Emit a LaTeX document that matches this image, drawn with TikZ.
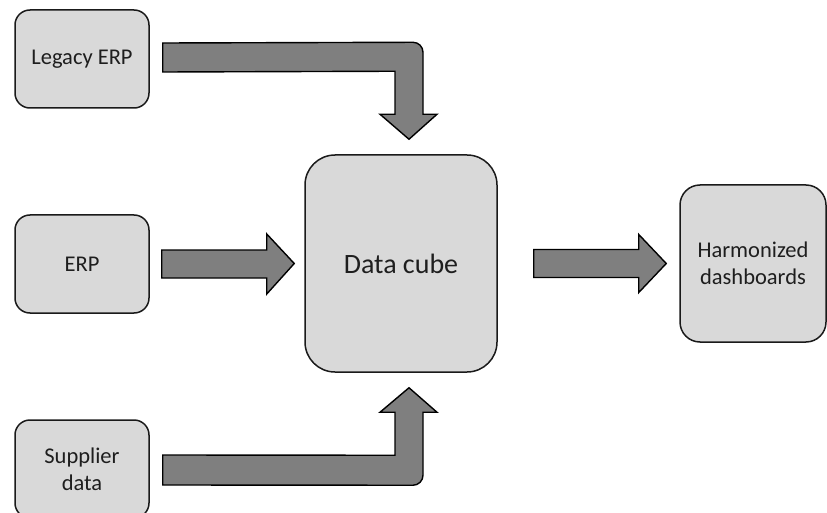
\documentclass[tikz,border=0pt]{standalone}
\usepackage{fontspec}
\setmainfont{Carlito}
\usetikzlibrary{calc}
\definecolor{boxfill}{HTML}{D9D9D9}
\definecolor{boxline}{HTML}{1A1A1A}
\definecolor{arrowfill}{HTML}{7F7F7F}
\definecolor{textcol}{HTML}{1E1E1E}
\tikzset{
  srcbox/.style={draw=boxline, fill=boxfill, line width=1.5pt, rounded corners=15pt,
    minimum width=134pt, minimum height=98pt, inner sep=0pt, align=center,
    text=textcol, font=\fontsize{22.5}{27}\selectfont},
  cubebox/.style={draw=boxline, fill=boxfill, line width=1.5pt, rounded corners=30pt,
    minimum width=192pt, minimum height=217pt, inner sep=0pt,
    text=textcol, font=\fontsize{28}{34}\selectfont},
  outbox/.style={draw=boxline, fill=boxfill, line width=1.5pt, rounded corners=20pt,
    minimum width=146pt, minimum height=157pt, inner sep=0pt, align=center,
    text=textcol, font=\fontsize{22.5}{27}\selectfont},
  blockarrow/.style={draw=black, fill=arrowfill, line width=1.4pt, line join=miter}
}
\begin{document}
\begin{tikzpicture}[x=1pt, y=-1pt]
  \clip (0,0) rectangle (827,513);
  \useasboundingbox (0,0) rectangle (827,513);

  % sources, hub and output
  \node[srcbox] (legacy) at (82,59) {Legacy ERP};
  \node[srcbox] (erp) at (82,264) {ERP};
  \node[srcbox] (supplier) at (82,469) {Supplier\\data};
  \node[cubebox] (cube) at (401,263.5) {Data cube};
  \node[outbox] (dash) at (753,263.5) {Harmonized\\dashboards};

  % bent arrow from the legacy system down into the cube
  \draw[blockarrow]
    ($(legacy.east)+(13,-16)$) [rounded corners=10pt]-- ($(cube.north)+(22,-112)$)
    [sharp corners]-- ($(cube.north)+(22,-40)$) -- ($(cube.north)+(36,-40)$)
    -- ($(cube.north)+(8,-15)$) -- ($(cube.north)+(-21,-40)$)
    -- ($(cube.north)+(-6,-40)$) -- ($(cube.north)+(-6,-83)$)
    -- ($(legacy.east)+(13,13)$) -- cycle;

  % straight arrow from ERP into the cube
  \draw[blockarrow]
    ($(erp.east)+(12,-14)$) -- ($(erp.east)+(117,-14)$) -- ($(erp.east)+(117,-30)$)
    -- ($(cube.west)+(-10,0)$) -- ($(erp.east)+(117,30)$) -- ($(erp.east)+(117,14)$)
    -- ($(erp.east)+(12,14)$) -- cycle;

  % bent arrow from supplier data up into the cube
  \draw[blockarrow]
    ($(supplier.east)+(13,16)$) [rounded corners=10pt]-- ($(cube.south)+(22,112.5)$)
    [sharp corners]-- ($(cube.south)+(22,39.5)$) -- ($(cube.south)+(36,39.5)$)
    -- ($(cube.south)+(8,15)$) -- ($(cube.south)+(-21,39.5)$)
    -- ($(cube.south)+(-6,39.5)$) -- ($(cube.south)+(-6,82.5)$)
    -- ($(supplier.east)+(13,-14)$) -- cycle;

  % arrow from the cube to the dashboards
  \draw[blockarrow]
    ($(cube.east)+(36,-14)$) -- ($(cube.east)+(141,-14)$) -- ($(cube.east)+(141,-29)$)
    -- ($(dash.west)+(-13,0)$) -- ($(cube.east)+(141,29)$) -- ($(cube.east)+(141,14)$)
    -- ($(cube.east)+(36,14)$) -- cycle;
\end{tikzpicture}
\end{document}
